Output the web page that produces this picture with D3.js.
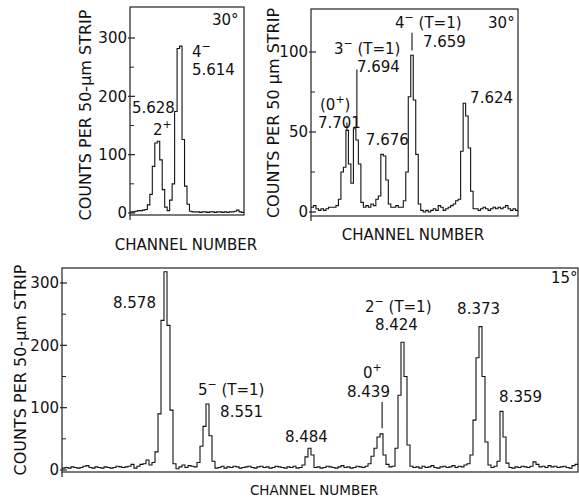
<!DOCTYPE html>
<html>
<head>
<meta charset="utf-8">
<script src="https://cdn.jsdelivr.net/npm/d3@7"></script>
<style>
  body { margin: 0; background: #fff; }
  text { font-family: "DejaVu Sans", sans-serif; fill: #111; }
</style>
</head>
<body>
<svg id="chart" width="579" height="497"></svg>
<script>
// counts per channel
var leftCounts = [2,2,3,4,4,5,6,14,32,80,120,123,91,40,10,4,22,50,174,282,286,126,46,15,3,
  2,2,2,1,2,2,1,2,2,1,2,2,1,2,1,2,2,3,5,2,1];

var rightCounts = [3,4,2,1,2,1,2,3,3,3,4,8,25,28,51,30,18,52,45,30,6,3,4,3,5,4,8,10,36,35,20,5,
  3,3,4,3,3,7,25,72,98,70,36,5,1,0,1,0,1,2,1,4,3,1,2,3,4,5,7,8,38,68,60,40,13,2,
  2,1,2,3,2,1,2,3,2,3,2,3,4,2,1,2,1];

var bottomCounts = [3,4,3,5,4,3,4,6,7,4,3,5,4,3,5,4,3,4,6,5,4,5,6,9,3,6,9,10,16,8,12,29,90,240,318,232,96,10,2,
  5,8,4,7,6,5,12,38,70,106,55,14,3,
  4,6,3,5,4,6,5,3,4,5,6,4,3,5,6,4,5,3,4,6,5,4,3,5,4,6,3,4,
  8,21,35,24,4,
  5,3,4,6,5,4,3,5,7,4,5,3,4,6,5,4,6,
  10,22,35,53,58,24,9,5,6,
  35,120,205,150,40,6,
  4,5,3,6,4,5,7,4,3,5,6,4,5,7,4,6,5,8,10,
  24,80,180,230,150,45,8,4,6,
  14,94,53,11,4,3,5,4,6,5,4,6,13,9,
  5,6,4,7,5,6,4,5,6,4,3,7,9];

var leftTicks = [0, 100, 200, 300];
var leftMinor = [50, 150, 250];
var rightTicks = [0, 50, 100];
var rightMinor = [25, 75];
var bottomTicks = [0, 100, 200, 300];
var bottomMinor = [50, 150, 250];

// peak labels: channel / count where the text starts
var leftLabels = [
  {main: "30°", sup: "", tail: "", ch: 33.1, v: 322},
  {main: "4", sup: "−", tail: "", ch: 25, v: 267},
  {main: "5.614", sup: "", tail: "", ch: 25, v: 237},
  {main: "5.628", sup: "", tail: "", ch: 0.8, v: 171},
  {main: "2", sup: "+", tail: "", ch: 9.3, v: 134}
];
var rightLabels = [
  {main: "30°", sup: "", tail: "", ch: 71, v: 115},
  {main: "4", sup: "−", tail: " (T=1)", ch: 33.7, v: 115},
  {main: "7.659", sup: "", tail: "", ch: 44.9, v: 103},
  {main: "3", sup: "−", tail: " (T=1)", ch: 9.2, v: 99},
  {main: "7.694", sup: "", tail: "", ch: 18.4, v: 87.5},
  {main: "(0", sup: "+", tail: ")", ch: 3.6, v: 64},
  {main: "7.701", sup: "", tail: "", ch: 2.8, v: 52.5},
  {main: "7.676", sup: "", tail: "", ch: 22, v: 42},
  {main: "7.624", sup: "", tail: "", ch: 63.8, v: 68}
];
var bottomLabels = [
  {main: "15°", sup: "", tail: "", ch: 163, v: 300},
  {main: "8.578", sup: "", tail: "", ch: 17, v: 260},
  {main: "5", sup: "−", tail: " (T=1)", ch: 45.3, v: 120},
  {main: "8.551", sup: "", tail: "", ch: 52.7, v: 85},
  {main: "8.484", sup: "", tail: "", ch: 74.3, v: 45},
  {main: "0", sup: "+", tail: "", ch: 100.3, v: 148},
  {main: "8.439", sup: "", tail: "", ch: 95, v: 117},
  {main: "2", sup: "−", tail: " (T=1)", ch: 101, v: 253},
  {main: "8.424", sup: "", tail: "", ch: 104.3, v: 224},
  {main: "8.373", sup: "", tail: "", ch: 131.7, v: 251},
  {main: "8.359", sup: "", tail: "", ch: 145.7, v: 109}
];

// pointer lines from label to peak
var rightPointers = [
  {ch: 14.4, v0: 51, v1: 56},
  {ch: 18.4, v0: 52.5, v1: 89},
  {ch: 40.5, v0: 101, v1: 112}
];
var bottomPointers = [
  {ch: 106.7, v0: 67, v1: 109}
];

var svg = d3.select("#chart");

function drawPanel(p) {
  var g = svg.append("g");
  var n = p.counts.length;

  var x = d3.scaleLinear().domain([0, n]).range([p.left, p.right]);
  var y = d3.scaleLinear().domain([0, p.topTick]).range([p.zeroY, p.topTickY]);

  // frame
  g.append("rect")
    .attr("x", p.left).attr("y", p.top)
    .attr("width", p.right - p.left).attr("height", p.bottom - p.top)
    .attr("fill", "none").attr("stroke", "#222").attr("stroke-width", 1.2);
  g.append("line")
    .attr("x1", p.left).attr("x2", p.left)
    .attr("y1", p.bottom).attr("y2", p.bottom + 5)
    .attr("stroke", "#222").attr("stroke-width", 1.2);

  // ticks
  g.selectAll(".major").data(p.ticks).enter().append("line")
    .attr("x1", p.left - 2).attr("x2", p.left + 5)
    .attr("y1", function(d) { return y(d); }).attr("y2", function(d) { return y(d); })
    .attr("stroke", "#222").attr("stroke-width", 1.2);
  g.selectAll(".minor").data(p.minor).enter().append("line")
    .attr("x1", p.left).attr("x2", p.left + 4)
    .attr("y1", function(d) { return y(d); }).attr("y2", function(d) { return y(d); })
    .attr("stroke", "#222").attr("stroke-width", 1);
  g.selectAll(".tlab").data(p.ticks).enter().append("text")
    .attr("x", p.left - 3)
    .attr("y", function(d) { return y(d); })
    .attr("dy", "0.36em")
    .attr("text-anchor", "end")
    .style("font-size", "15px")
    .text(function(d) { return d; });

  // histogram
  var pts = p.counts.map(function(c, i) { return [i, c]; });
  pts.push([n, p.counts[n - 1]]);
  var line = d3.line()
    .x(function(d) { return x(d[0]); })
    .y(function(d) { return y(d[1]); })
    .curve(d3.curveStepAfter);
  g.append("path")
    .attr("d", line(pts))
    .attr("fill", "none").attr("stroke", "#111").attr("stroke-width", 1.1);

  // pointer lines
  g.selectAll(".ptr").data(p.pointers).enter().append("line")
    .attr("x1", function(d) { return x(d.ch); }).attr("x2", function(d) { return x(d.ch); })
    .attr("y1", function(d) { return y(d.v0); }).attr("y2", function(d) { return y(d.v1); })
    .attr("stroke", "#111").attr("stroke-width", 1.1);

  // peak labels
  p.labels.forEach(function(d) {
    var t = g.append("text")
      .attr("x", x(d.ch)).attr("y", y(d.v))
      .style("font-size", "15px");
    t.append("tspan").text(d.main);
    if (d.sup) {
      t.append("tspan").attr("dy", -7).style("font-size", "11px").text(d.sup);
      t.append("tspan").attr("dy", 7).text(d.tail);
    } else if (d.tail) {
      t.append("tspan").text(d.tail);
    }
  });

  // axis titles
  g.append("text")
    .attr("transform", "translate(" + p.yTitleX + "," + p.yTitleY + ") rotate(-90)")
    .attr("text-anchor", "middle")
    .attr("dy", "0.36em")
    .style("font-size", "16px")
    .text(p.yTitle);
  g.append("text")
    .attr("x", p.xTitleX).attr("y", p.xTitleY)
    .attr("text-anchor", "middle")
    .style("font-size", p.xTitleSize)
    .text("CHANNEL NUMBER");
}

drawPanel({
  counts: leftCounts, ticks: leftTicks, minor: leftMinor,
  labels: leftLabels, pointers: [],
  left: 130, right: 244, top: 7, bottom: 215,
  zeroY: 213, topTick: 300, topTickY: 38,
  yTitle: "COUNTS PER 50-μm STRIP", yTitleX: 85, yTitleY: 115,
  xTitleX: 186, xTitleY: 250, xTitleSize: "15px"
});

drawPanel({
  counts: rightCounts, ticks: rightTicks, minor: rightMinor,
  labels: rightLabels, pointers: rightPointers,
  left: 311, right: 518, top: 9, bottom: 216,
  zeroY: 212, topTick: 100, topTickY: 52,
  yTitle: "COUNTS PER 50 μm STRIP", yTitleX: 273, yTitleY: 113,
  xTitleX: 413, xTitleY: 240, xTitleSize: "15px"
});

drawPanel({
  counts: bottomCounts, ticks: bottomTicks, minor: bottomMinor,
  labels: bottomLabels, pointers: bottomPointers,
  left: 62, right: 578, top: 268, bottom: 472,
  zeroY: 470, topTick: 300, topTickY: 283,
  yTitle: "COUNTS PER 50-μm STRIP", yTitleX: 20, yTitleY: 370,
  xTitleX: 314, xTitleY: 495, xTitleSize: "13.5px"
});
</script>
</body>
</html>
